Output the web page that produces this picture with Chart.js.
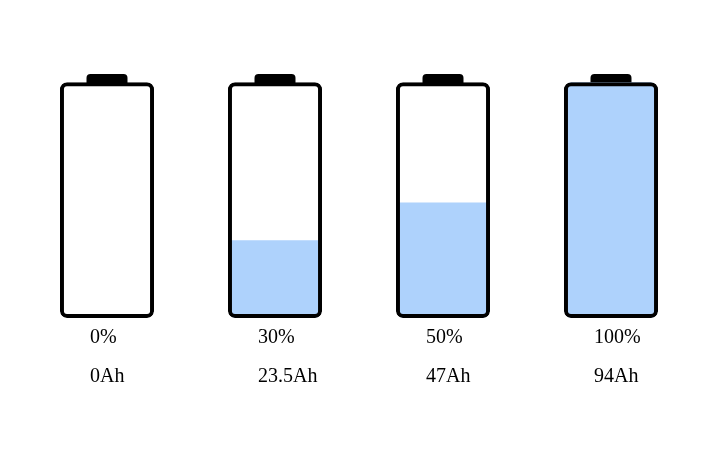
<!DOCTYPE html>
<html>
<head>
<meta charset="utf-8">
<script src="https://cdn.jsdelivr.net/npm/chart.js@4"></script>
<style>
  html, body { margin: 0; padding: 0; background: #fff; }
  #wrap { width: 719px; height: 464px; }
</style>
</head>
<body>
<div id="wrap"><canvas id="myChart"></canvas></div>
<script>
const percentLabels = ['0%', '30%', '50%', '100%'];
const capacityLabels = ['0Ah', '23.5Ah', '47Ah', '94Ah'];
const fillLevels = [0, 33, 49, 100]; // fill height, % of body
const bodyLevel = [100, 100, 100, 100];
const capRange = [[99, 103.5], [99, 103.5], [99, 103.5], [99, 103.5]];

const fillBlue = '#aed2fc';

const categories = percentLabels.map((p, i) => [p, capacityLabels[i]]);

function fillRadius(ctx) {
  const v = ctx.raw;
  return v >= 100 ? 6 : { bottomLeft: 6, bottomRight: 6, topLeft: 0, topRight: 0 };
}

const ctx = document.getElementById('myChart').getContext('2d');
const myChart = new Chart(ctx, {
  type: 'bar',
  data: {
    labels: categories,
    datasets: [
      {
        label: 'cap',
        data: capRange,
        backgroundColor: '#000',
        borderWidth: 0,
        borderRadius: { topLeft: 4, topRight: 4 },
        borderSkipped: false,
        barPercentage: 0.244,
        categoryPercentage: 1,
        grouped: false,
        order: 2,
        clip: false
      },
      {
        label: 'body',
        data: bodyLevel,
        backgroundColor: 'rgba(0,0,0,0)',
        borderColor: '#000',
        borderWidth: 4,
        borderRadius: 7,
        borderSkipped: false,
        barPercentage: 0.56,
        categoryPercentage: 1,
        grouped: false,
        order: 0,
        clip: false
      },
      {
        label: 'charge',
        data: fillLevels,
        backgroundColor: fillBlue,
        borderWidth: 0,
        borderRadius: fillRadius,
        borderSkipped: false,
        barPercentage: 0.54,
        categoryPercentage: 1,
        grouped: false,
        order: 1,
        clip: false
      }
    ]
  },
  options: {
    responsive: true,
    maintainAspectRatio: false,
    animation: false,
    events: [],
    layout: { padding: { left: 23, right: 24, top: 74, bottom: 68 } },
    plugins: { legend: { display: false }, tooltip: { enabled: false } },
    scales: {
      x: {
        grid: { display: false, drawTicks: false },
        border: { display: false },
        ticks: {
          align: 'start',
          labelOffset: -17,
          padding: 0,
          color: '#000',
          font: { family: '"Liberation Serif", serif', size: 20, lineHeight: 1.95 }
        }
      },
      y: {
        display: false,
        min: 0,
        max: 103.5
      }
    }
  }
});
</script>
</body>
</html>
